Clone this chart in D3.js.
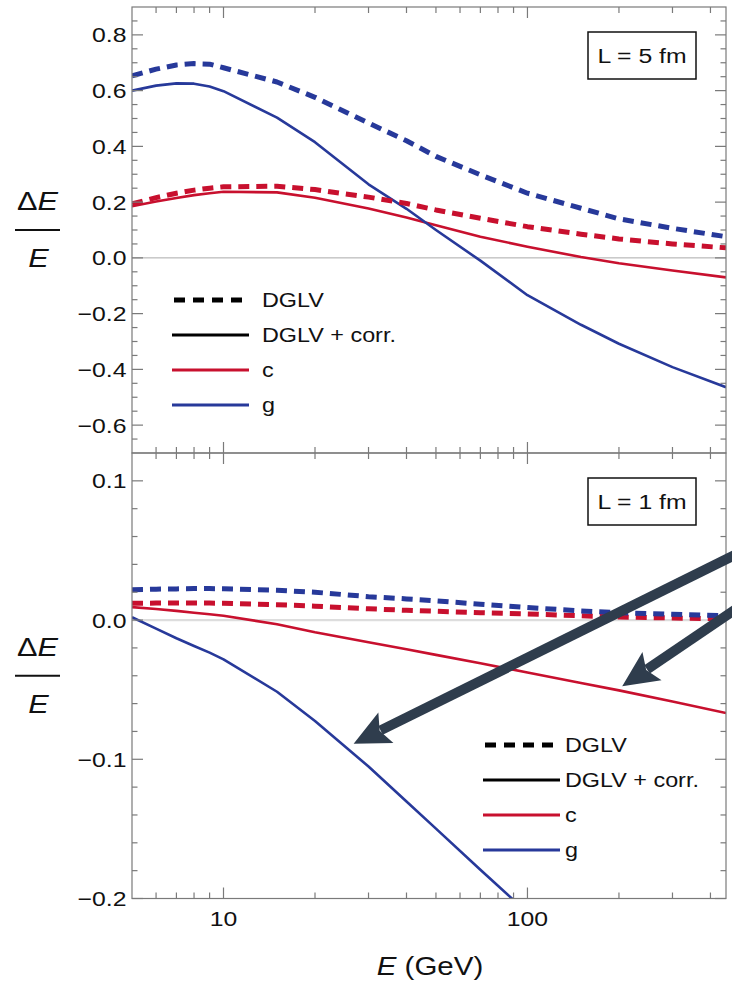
<!DOCTYPE html>
<html>
<head>
<meta charset="utf-8">
<script src="https://cdn.jsdelivr.net/npm/d3@7"></script>
<style>
  html, body { margin: 0; padding: 0; background: #fff; }
  svg text { font-family: "Liberation Sans", Arial, Helvetica, sans-serif; fill: #111; }
</style>
</head>
<body>
<svg id="chart" width="732" height="982"></svg>
<script>
// ---------------- DATA ----------------
const energies = [5, 6, 7, 8, 9, 10, 15, 20, 30, 40, 50, 70, 100, 150, 200, 300, 450];

// L = 5 fm (top panel)
const gDGLV_L5 = [0.653, 0.677, 0.692, 0.697, 0.695, 0.682, 0.631, 0.576, 0.484, 0.420, 0.364, 0.298, 0.232, 0.178, 0.140, 0.106, 0.076];
const gCorr_L5 = [0.600, 0.618, 0.626, 0.625, 0.615, 0.598, 0.503, 0.415, 0.264, 0.176, 0.100, -0.010, -0.134, -0.240, -0.308, -0.392, -0.464];
const cDGLV_L5 = [0.194, 0.216, 0.232, 0.243, 0.250, 0.255, 0.257, 0.245, 0.218, 0.195, 0.172, 0.142, 0.112, 0.085, 0.068, 0.050, 0.036];
const cCorr_L5 = [0.185, 0.202, 0.215, 0.225, 0.232, 0.237, 0.235, 0.216, 0.177, 0.145, 0.117, 0.076, 0.040, 0.003, -0.019, -0.045, -0.070];

// L = 1 fm (bottom panel)
const gDGLV_L1 = [0.0218, 0.0222, 0.0224, 0.0226, 0.0226, 0.0225, 0.0214, 0.0200, 0.0168, 0.0152, 0.0138, 0.0114, 0.0090, 0.0066, 0.0053, 0.0041, 0.0031];
const gCorr_L1 = [0.0020, -0.0062, -0.0131, -0.0186, -0.0234, -0.0282, -0.0515, -0.0725, -0.1052, -0.1303, -0.1498, -0.1793, -0.2102, null, null, null, null];
const cDGLV_L1 = [0.0120, 0.0122, 0.0123, 0.0123, 0.0122, 0.0121, 0.0110, 0.0100, 0.0081, 0.0070, 0.0063, 0.0053, 0.0044, 0.0031, 0.0022, 0.0015, 0.0008];
const cCorr_L1 = [0.0093, 0.0080, 0.0066, 0.0053, 0.0042, 0.0031, -0.0030, -0.0088, -0.0160, -0.0210, -0.0250, -0.0310, -0.0377, -0.0452, -0.0505, -0.0585, -0.0668];

const xDomain = [5, 450];
const xMajorTicks = [10, 100];
const xTickLabels = ["10", "100"];
const yDomainTop = [-0.7, 0.9];
const yMajorTop = [-0.6, -0.4, -0.2, 0.0, 0.2, 0.4, 0.6, 0.8];
const yDomainBot = [-0.2, 0.12];
const yMajorBot = [-0.2, -0.1, 0.0, 0.1];

const legendLabels = ["DGLV", "DGLV + corr.", "c", "g"];
const panelLabels = ["L = 5 fm", "L = 1 fm"];
// annotation arrows in data coordinates of the bottom panel: [E, ΔE/E] start -> tip
const arrowsBot = [
  { from: [516, 0.0500], to: [26.8, -0.0888] },
  { from: [516, 0.0118], to: [205, -0.0476] }
];

// ---------------- LAYOUT ----------------
const BLUE = "#27399a";
const RED = "#c8102e";
const ARROW = "#2f3d4d";
const FRAME = "#7a7a7a";
const SX = 1.18; // horizontal text stretch

const L = 132, R = 726;
const topY0 = 7, midY = 453, botY1 = 898.5;

const svg = d3.select("#chart");
const x = d3.scaleLog().domain(xDomain).range([L, R]);
const yTop = d3.scaleLinear().domain(yDomainTop).range([midY, topY0]);
const yBot = d3.scaleLinear().domain(yDomainBot).range([botY1, midY]);

function txt(g, px, py, str, size, anchor, italic) {
  const t = g.append("text")
    .attr("transform", `translate(${px},${py}) scale(${SX},1)`)
    .attr("font-size", size)
    .attr("text-anchor", anchor || "start");
  if (italic) t.attr("font-style", "italic");
  t.text(str);
  return t;
}

const fmt = d3.format(".1f");

// minor x ticks
const xMinor = [];
for (let dec = 1; dec <= 100; dec *= 10) {
  for (let m = 2; m <= 9; m++) {
    const v = m * dec;
    if (v > xDomain[0] && v < xDomain[1]) xMinor.push(v);
  }
}

function drawPanel(y, yMajor, minorStep, data, opts) {
  const [y0, y1] = y.range(); // bottom, top
  const g = svg.append("g");
  const clipId = "clip" + opts.id;
  svg.append("clipPath").attr("id", clipId)
    .append("rect").attr("x", L).attr("y", y1).attr("width", R - L).attr("height", y0 - y1);

  // zero line
  g.append("line").attr("x1", L).attr("x2", R).attr("y1", y(0)).attr("y2", y(0))
    .attr("stroke", opts.zeroColor).attr("stroke-width", opts.zeroWidth);

  // curves
  const line = d3.line()
    .defined(d => d[1] !== null)
    .x(d => x(d[0])).y(d => y(d[1]));
  const cg = g.append("g").attr("clip-path", `url(#${clipId})`);
  data.forEach(s => {
    cg.append("path")
      .attr("d", line(energies.map((e, i) => [e, s.values[i]])))
      .attr("fill", "none")
      .attr("stroke", s.color)
      .attr("stroke-width", s.dashed ? 5 : 2.6)
      .attr("stroke-dasharray", s.dashed ? "11,7" : null)
      .attr("stroke-linejoin", "round");
  });

  // frame
  g.append("rect").attr("x", L).attr("y", y1).attr("width", R - L).attr("height", y0 - y1)
    .attr("fill", "none").attr("stroke", FRAME).attr("stroke-width", 1.2);

  // y ticks (left and right)
  const minors = [];
  const [d0, d1] = y.domain();
  for (let v = Math.ceil(d0 / minorStep) * minorStep; v < d1 + 1e-9; v += minorStep) {
    const vv = Math.round(v * 1000) / 1000;
    if (!yMajor.some(m => Math.abs(m - vv) < 1e-6) && vv > d0 + 1e-9 && vv < d1 - 1e-9) minors.push(vv);
  }
  const tk = g.append("g").attr("stroke", FRAME).attr("stroke-width", 1.2);
  yMajor.forEach(v => {
    tk.append("line").attr("x1", L).attr("x2", L + 11).attr("y1", y(v)).attr("y2", y(v));
    tk.append("line").attr("x1", R).attr("x2", R - 11).attr("y1", y(v)).attr("y2", y(v));
  });
  minors.forEach(v => {
    tk.append("line").attr("x1", L).attr("x2", L + 5.5).attr("y1", y(v)).attr("y2", y(v));
    tk.append("line").attr("x1", R).attr("x2", R - 5.5).attr("y1", y(v)).attr("y2", y(v));
  });
  // x ticks (top and bottom of panel)
  xMajorTicks.forEach(v => {
    tk.append("line").attr("x1", x(v)).attr("x2", x(v)).attr("y1", y0).attr("y2", y0 - 11);
    tk.append("line").attr("x1", x(v)).attr("x2", x(v)).attr("y1", y1).attr("y2", y1 + 11);
  });
  xMinor.forEach(v => {
    tk.append("line").attr("x1", x(v)).attr("x2", x(v)).attr("y1", y0).attr("y2", y0 - 6);
    tk.append("line").attr("x1", x(v)).attr("x2", x(v)).attr("y1", y1).attr("y2", y1 + 6);
  });

  // y tick labels
  yMajor.forEach(v => {
    txt(g, L - 5.5, y(v) + 7.5, fmt(v), 21, "end");
  });

  // y axis label ΔE/E
  const cy = (y0 + y1) / 2;
  const lab = g.append("text")
    .attr("transform", `translate(37.5,${cy - 20}) scale(${SX},1)`)
    .attr("font-size", 26).attr("text-anchor", "middle");
  lab.append("tspan").text("Δ");
  lab.append("tspan").attr("font-style", "italic").text("E");
  g.append("line").attr("x1", 15).attr("x2", 60).attr("y1", cy).attr("y2", cy)
    .attr("stroke", "#111").attr("stroke-width", 2);
  txt(g, 38.5, cy + 37, "E", 26, "middle", true);

  // panel label box
  const bx = 588, bw = 108, bh = 47;
  const by = y1 + opts.boxOffset;
  g.append("rect").attr("x", bx).attr("y", by).attr("width", bw).attr("height", bh)
    .attr("fill", "#fff").attr("stroke", "#111").attr("stroke-width", 1.5);
  txt(g, bx + bw / 2, by + bh / 2 + 7.5, opts.label, 21, "middle");

  // legend
  const lg = g.append("g");
  const lx0 = opts.legend[0], ly0 = opts.legend[1], lgap = opts.legend[2];
  const items = [
    { color: "#000", dashed: true },
    { color: "#000", dashed: false },
    { color: RED, dashed: false },
    { color: BLUE, dashed: false }
  ];
  items.forEach((it, i) => {
    const yy = ly0 + 35 * i;
    lg.append("line")
      .attr("x1", lx0 + (it.dashed ? 2 : 0)).attr("x2", lx0 + (it.dashed ? 70 : 77))
      .attr("y1", yy).attr("y2", yy)
      .attr("stroke", it.color)
      .attr("stroke-width", it.dashed ? 5 : 3.2)
      .attr("stroke-dasharray", it.dashed ? "11,8" : null);
    txt(lg, lx0 + 77 + lgap, yy + 7, legendLabels[i], 19.8, "start");
  });
  return g;
}

drawPanel(yTop, yMajorTop, 0.05, [
  { values: cCorr_L5, color: RED, dashed: false },
  { values: gCorr_L5, color: BLUE, dashed: false },
  { values: cDGLV_L5, color: RED, dashed: true },
  { values: gDGLV_L5, color: BLUE, dashed: true }
], { id: "top", zeroColor: "#aaaaaa", zeroWidth: 1, label: panelLabels[0], boxOffset: 25, legend: [172, 300, 13] });

drawPanel(yBot, yMajorBot, 0.02, [
  { values: cCorr_L1, color: RED, dashed: false },
  { values: gCorr_L1, color: BLUE, dashed: false },
  { values: cDGLV_L1, color: RED, dashed: true },
  { values: gDGLV_L1, color: BLUE, dashed: true }
], { id: "bot", zeroColor: "#dddddd", zeroWidth: 2.2, label: panelLabels[1], boxOffset: 25, legend: [483, 745, 5] });

// x tick labels
xMajorTicks.forEach((v, i) => {
  txt(svg, x(v), 926, xTickLabels[i], 21, "middle");
});

// x axis title
const xt = svg.append("text")
  .attr("transform", `translate(430,975) scale(${SX},1)`)
  .attr("font-size", 25).attr("text-anchor", "middle");
xt.append("tspan").attr("font-style", "italic").text("E");
xt.append("tspan").text(" (GeV)");

// annotation arrows
arrowsBot.forEach(a => {
  const x0 = x(a.from[0]), y0 = yBot(a.from[1]);
  const x1 = x(a.to[0]), y1 = yBot(a.to[1]);
  const ang = Math.atan2(y1 - y0, x1 - x0);
  const headLen = 36, headHalf = 17;
  const bxp = x1 - headLen * Math.cos(ang), byp = y1 - headLen * Math.sin(ang);
  svg.append("line").attr("x1", x0).attr("y1", y0)
    .attr("x2", x1 - (headLen - 6) * Math.cos(ang)).attr("y2", y1 - (headLen - 6) * Math.sin(ang))
    .attr("stroke", ARROW).attr("stroke-width", 10);
  const px = -Math.sin(ang), py = Math.cos(ang);
  const notch = 7;
  svg.append("path")
    .attr("d", `M${x1},${y1} L${bxp + px * headHalf},${byp + py * headHalf} L${bxp + notch * Math.cos(ang)},${byp + notch * Math.sin(ang)} L${bxp - px * headHalf},${byp - py * headHalf} Z`)
    .attr("fill", ARROW);
});
</script>
</body>
</html>
